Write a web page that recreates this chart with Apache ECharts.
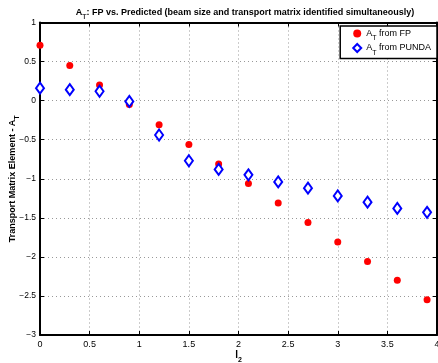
<!DOCTYPE html>
<html>
<head>
<meta charset="utf-8">
<script src="https://cdn.jsdelivr.net/npm/echarts@6/dist/echarts.min.js"></script>
<style>
  html, body { margin: 0; padding: 0; background: #fff; }
  #chart { width: 438px; height: 363px; }
</style>
</head>
<body>
<div id="chart"></div>
<script>
const l2 = [0, 0.3, 0.6, 0.9, 1.2, 1.5, 1.8, 2.1, 2.4, 2.7, 3.0, 3.3, 3.6, 3.9];
const fpValues = [0.71, 0.45, 0.20, -0.05, -0.31, -0.56, -0.81, -1.06, -1.31, -1.56, -1.81, -2.06, -2.30, -2.55];
const pundaValues = [0.16, 0.14, 0.12, -0.01, -0.44, -0.77, -0.88, -0.95, -1.04, -1.12, -1.22, -1.30, -1.38, -1.43];
const yTicks = [1, 0.5, 0, -0.5, -1, -1.5, -2, -2.5, -3];

const font = "'Liberation Sans', Arial, sans-serif";
const sub = { fontSize: 7, fontWeight: "bold", verticalAlign: "bottom", padding: [0, 0, -4, 0], fontFamily: font };

const chart = echarts.init(document.getElementById("chart"));

const gridLine = { show: true, lineStyle: { color: "#999", type: [1, 3], width: 1 } };
const boxLine = { show: true, onZero: false, lineStyle: { color: "#000", width: 2 } };
const inTicks = { show: true, inside: true, length: 4, lineStyle: { color: "#000" } };

chart.setOption({
  animation: false,
  backgroundColor: "#fff",
  textStyle: { fontFamily: font },
  title: {
    text: "{b|A}{s|T}{b|: FP vs. Predicted (beam size and transport matrix identified simultaneously)}",
    left: 240,
    textAlign: "center",
    top: 3,
    textStyle: {
      rich: {
        b: { fontSize: 9, fontWeight: "bold", color: "#000", fontFamily: font },
        s: sub,
      },
    },
  },
  legend: {
    orient: "vertical",
    right: 1,
    top: 26,
    padding: [3, 6, 2, 12],
    itemGap: 1,
    itemWidth: 8,
    itemHeight: 8,
    borderColor: "#000",
    borderWidth: 1.5,
    backgroundColor: "#fff",
    formatter: (name) => "{a|A}{s|T}{a| " + name.slice(3) + "}",
    textStyle: {
      rich: {
        a: { fontSize: 9, color: "#000", fontFamily: font },
        s: { fontSize: 7, color: "#000", verticalAlign: "bottom", padding: [0, 0, -4, 0], fontFamily: font },
      },
    },
    data: ["AT from FP", "AT from PUNDA"],
  },
  grid: { left: 40, right: 1, top: 22.5, bottom: 28, containLabel: false, outerBoundsMode: "none" },
  xAxis: [
    {
      type: "value",
      min: 0,
      max: 4,
      interval: 0.5,
      name: "{b|l}{s|2}",
      nameLocation: "middle",
      nameGap: 15,
      nameMoveOverlap: false,
      nameTextStyle: { rich: { b: { fontSize: 10, fontWeight: "bold", color: "#000", fontFamily: font }, s: sub } },
      axisLine: boxLine,
      axisTick: inTicks,
      axisLabel: { fontSize: 9, color: "#000", margin: 5 },
      splitLine: gridLine,
    },
    {
      type: "value",
      position: "top",
      min: 0,
      max: 4,
      interval: 0.5,
      axisLine: boxLine,
      axisTick: inTicks,
      axisLabel: { show: false },
      splitLine: { show: false },
    },
  ],
  yAxis: [
    {
      type: "value",
      min: -3,
      max: 1,
      interval: 0.5,
      name: "{b|Transport Matrix Element - A}{s|T}",
      nameLocation: "middle",
      nameGap: 23,
      nameMoveOverlap: false,
      nameRotate: 90,
      nameTextStyle: { rich: { b: { fontSize: 9, fontWeight: "bold", color: "#000", fontFamily: font }, s: sub } },
      axisLine: boxLine,
      axisTick: inTicks,
      axisLabel: {
        fontSize: 8.5,
        color: "#000",
        margin: 4,
        formatter: (v) => (yTicks.includes(v) ? String(v).replace("-", "\u2212") : ""),
      },
      splitLine: gridLine,
    },
    {
      type: "value",
      position: "right",
      min: -3,
      max: 1,
      interval: 0.5,
      axisLine: boxLine,
      axisTick: inTicks,
      axisLabel: { show: false },
      splitLine: { show: false },
    },
  ],
  series: [
    {
      name: "AT from FP",
      type: "scatter",
      symbol: "circle",
      symbolSize: 7,
      itemStyle: { color: "#ff0000", opacity: 1 },
      data: l2.map((x, i) => [x, fpValues[i]]),
      z: 3,
    },
    {
      name: "AT from PUNDA",
      type: "scatter",
      symbol: "diamond",
      symbolSize: [8, 11],
      itemStyle: { color: "#fff", borderColor: "#0000ff", borderWidth: 2, opacity: 1 },
      data: l2.map((x, i) => [x, pundaValues[i]]),
      z: 4,
    },
  ],
});
</script>
</body>
</html>
